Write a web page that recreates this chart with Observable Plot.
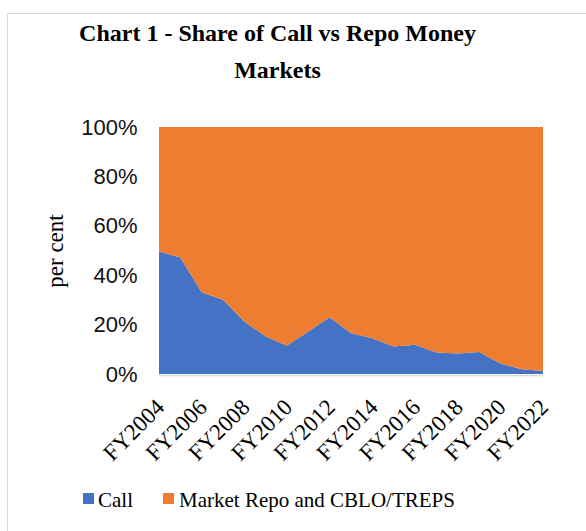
<!DOCTYPE html>
<html>
<head>
<meta charset="utf-8">
<script src="https://cdn.jsdelivr.net/npm/d3@7"></script>
<script src="https://cdn.jsdelivr.net/npm/@observablehq/plot@0.6"></script>
<style>
  html, body { margin: 0; padding: 0; background: #fff; overflow: hidden; }
  #wrap { position: relative; width: 586px; height: 531px; overflow: hidden; }
  #frame { position: absolute; left: 7px; top: 13px; width: 640px; height: 640px; border: 1px solid #d9d9d9; box-sizing: border-box; }
  .t { position: absolute; font-family: "Liberation Serif", "Times New Roman", serif; color: #000; white-space: nowrap; }
  #title1, #title2 { font-weight: bold; font-size: 24px; left: 0; width: 555px; text-align: center; line-height: 24px; }
  #title1 { top: 21px; }
  #title2 { top: 58px; }
  #ylab { font-size: 23px; left: 56px; top: 251px; transform: translate(-50%, -50%) rotate(-90deg); }
  .sw { position: absolute; width: 11px; height: 11px; }
  .lg { font-size: 21px; top: 488px; line-height: 24px; }
  #plot { position: absolute; left: 0; top: 0; }
</style>
</head>
<body>
<div id="wrap">
  <div id="frame"></div>
  <div class="t" id="title1">Chart 1 - Share of Call vs Repo Money</div>
  <div class="t" id="title2">Markets</div>
  <div class="t" id="ylab">per cent</div>
  <div id="plot"></div>
  <div class="sw" style="left:83px; top:493px; background:#4472C4;"></div>
  <div class="t lg" style="left:98px;">Call</div>
  <div class="sw" style="left:163px; top:493px; background:#ED7D31;"></div>
  <div class="t lg" style="left:179px;">Market Repo and CBLO/TREPS</div>
</div>
<script>
const years = [2004,2005,2006,2007,2008,2009,2010,2011,2012,2013,2014,2015,2016,2017,2018,2019,2020,2021,2022];
const callShare = [49.6,47.2,33.1,30.1,21.3,15.2,11.5,17.2,23.0,16.5,14.5,11.1,11.8,8.7,8.3,8.9,4.3,1.9,1.2];
const repoShare = [50.4,52.8,66.9,69.9,78.7,84.8,88.5,82.8,77.0,83.5,85.5,88.9,88.2,91.3,91.7,91.1,95.7,98.1,98.8];
const seriesNames = ["Call", "Market Repo and CBLO/TREPS"];
const seriesColors = ["#4472C4", "#ED7D31"];
const xTicks = [2004,2006,2008,2010,2012,2014,2016,2018,2020,2022];
const yTicks = [0,20,40,60,80,100];

const data = [
  ...years.map((y, i) => ({year: y, series: seriesNames[0], value: callShare[i]})),
  ...years.map((y, i) => ({year: y, series: seriesNames[1], value: repoShare[i]}))
];

const chart = Plot.plot({
  width: 586,
  height: 531,
  marginLeft: 159,
  marginRight: 43,
  marginTop: 127,
  marginBottom: 157,
  style: {background: "transparent", overflow: "visible"},
  x: {domain: [2004, 2022]},
  y: {domain: [0, 100]},
  color: {domain: seriesNames, range: seriesColors},
  marks: [
    Plot.areaY(data, {x: "year", y: "value", fill: "series", z: "series", order: seriesNames}),
    Plot.ruleY([0], {stroke: "#d9d9d9", strokeWidth: 1.5, dy: 1}),
    Plot.axisY({ticks: yTicks, tickFormat: d => d + "%", tickSize: 0, tickPadding: 22,
      fontSize: 22, fontFamily: "'Liberation Sans', Arial, sans-serif", fill: "#111", label: null}),
    Plot.axisX({ticks: xTicks, tickFormat: d => "FY" + d, tickSize: 0, tickPadding: 0, tickRotate: -45,
      fontSize: 23, fontFamily: "'Liberation Serif', 'Times New Roman', serif", fill: "#000", label: null, dx: 1, dy: 29})
  ]
});
document.getElementById("plot").appendChild(chart);
</script>
</body>
</html>
